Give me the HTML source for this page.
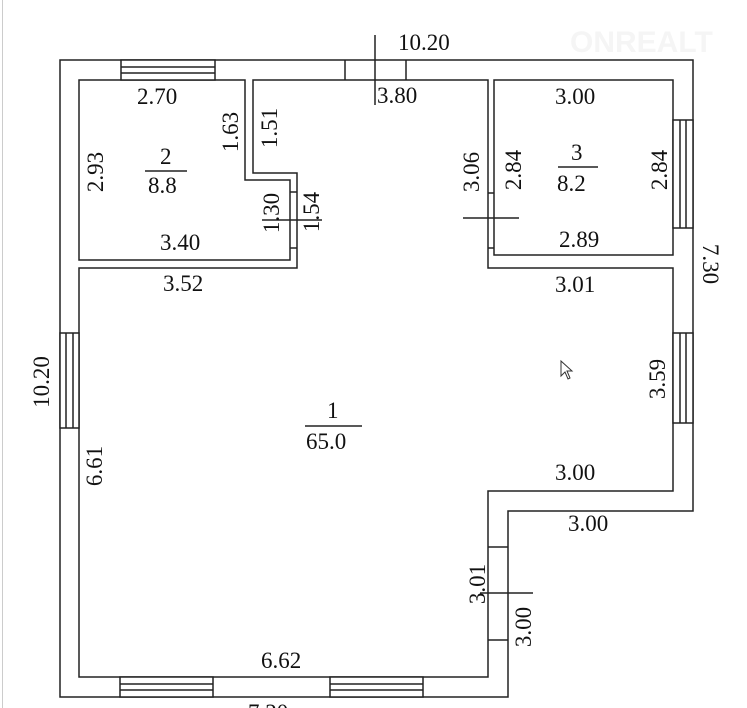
<!DOCTYPE html>
<html><head><style>body{margin:0;background:#fff}svg{display:block}</style></head><body>
<svg width="747" height="708" viewBox="0 0 747 708" xmlns="http://www.w3.org/2000/svg">
<rect width="747" height="708" fill="#fff"/>
<rect x="2" y="0" width="1" height="708" fill="#ccc"/>
<g fill="none" stroke="#222" stroke-width="1.5">
<path d="M60 60 H693 V511 H508 V697 H60 Z"/>
<path d="M79 80 H245 V180 H290 V260 H79 Z"/>
<path d="M253 80 V173 H297 V268 H79 V677 H488 V491 H673 V268 H488 V80 Z"/>
<path d="M494 80 H673 V255 H494 Z"/>
<rect x="121" y="60" width="94" height="20" fill="#fff"/>
<path d="M121 67 H215 M121 73 H215"/>
<rect x="673" y="120" width="20" height="108" fill="#fff"/>
<path d="M680 120 V228 M686 120 V228"/>
<rect x="673" y="333" width="20" height="90" fill="#fff"/>
<path d="M680 333 V423 M686 333 V423"/>
<rect x="60" y="333" width="19" height="95" fill="#fff"/>
<path d="M66 333 V428 M73 333 V428"/>
<rect x="120" y="677" width="93" height="20" fill="#fff"/>
<path d="M120 684 H213 M120 690 H213"/>
<rect x="330" y="677" width="93" height="20" fill="#fff"/>
<path d="M330 684 H423 M330 690 H423"/>
<path d="M345 60 V80 M406 60 V80 M375 35 V105"/>
<path d="M290 192 H297 M290 248 H297 M262 220 H322"/>
<path d="M488 193 H494 M488 248 H494 M463 218 H519"/>
<path d="M488 547 H508 M488 640 H508 M480 593 H533"/>
<path d="M145 171 H187 M305 426 H362 M558 167 H598"/>
</g>
<path d="M561 361 L561 376 L565 372 L568 379 L570 378 L567 371 L572 371 Z" fill="#fff" stroke="#333" stroke-width="1"/>
<g font-family="Liberation Serif, serif" font-size="23" fill="#111">
<text x="398" y="50">10.20</text>
<text x="377" y="103">3.80</text>
<text x="137" y="104">2.70</text>
<text x="555" y="104">3.00</text>
<text x="160" y="164">2</text>
<text x="148" y="193">8.8</text>
<text x="571" y="160">3</text>
<text x="557" y="191">8.2</text>
<text x="160" y="250">3.40</text>
<text x="559" y="247">2.89</text>
<text x="163" y="291">3.52</text>
<text x="555" y="292">3.01</text>
<text x="327" y="418">1</text>
<text x="306" y="449">65.0</text>
<text x="555" y="480">3.00</text>
<text x="568" y="531">3.00</text>
<text x="261" y="668">6.62</text>
<text x="248" y="720">7.20</text>
<g text-anchor="middle">
<text transform="translate(103,172) rotate(-90)">2.93</text>
<text transform="translate(238,132) rotate(-90)">1.63</text>
<text transform="translate(277,128) rotate(-90)">1.51</text>
<text transform="translate(279,213) rotate(-90)">1.30</text>
<text transform="translate(319,212) rotate(-90)">1.54</text>
<text transform="translate(479,172) rotate(-90)">3.06</text>
<text transform="translate(521,170) rotate(-90)">2.84</text>
<text transform="translate(667,170) rotate(-90)">2.84</text>
<text transform="translate(703,264) rotate(90)">7.30</text>
<text transform="translate(49,382) rotate(-90)">10.20</text>
<text transform="translate(665,379) rotate(-90)">3.59</text>
<text transform="translate(102,466) rotate(-90)">6.61</text>
<text transform="translate(485,584) rotate(-90)">3.01</text>
<text transform="translate(531,627) rotate(-90)">3.00</text>
</g>
</g>
<text x="570" y="52" font-family="Liberation Sans, sans-serif" font-weight="bold" font-size="30" fill="#f5f5f5">ONREALT</text>
</svg>
</body></html>
